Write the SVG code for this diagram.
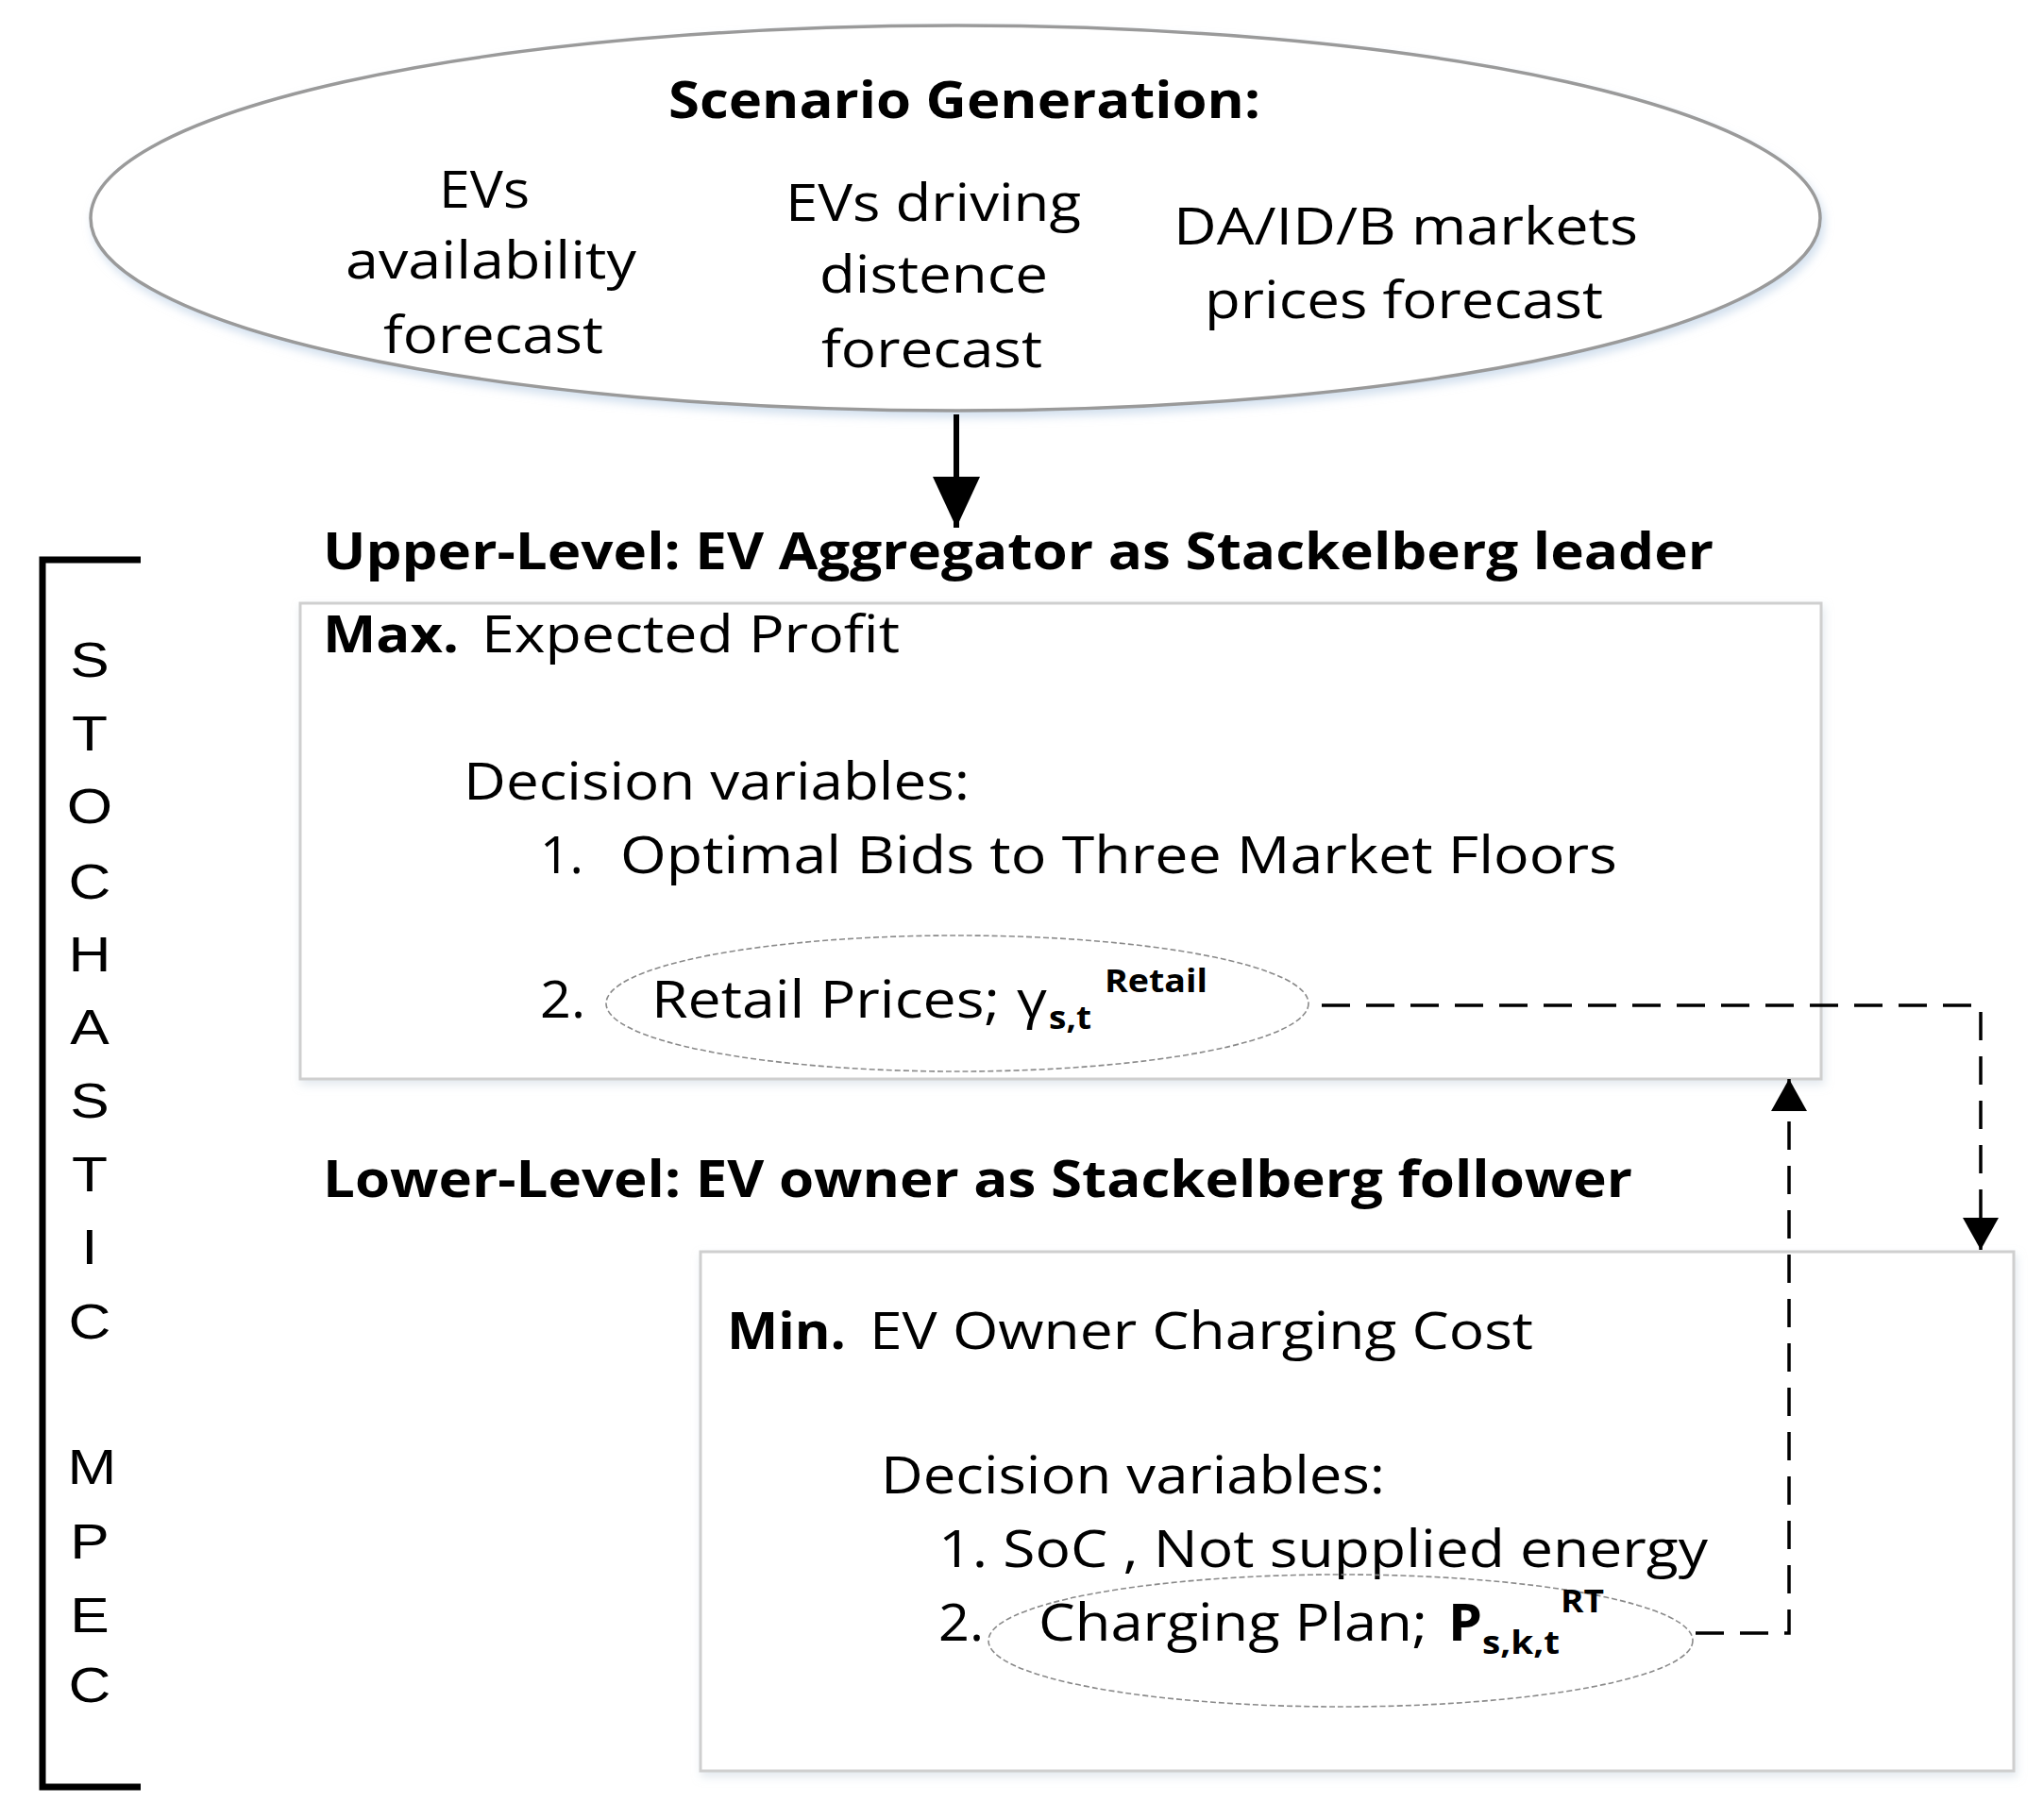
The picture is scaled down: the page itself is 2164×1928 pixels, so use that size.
<svg xmlns="http://www.w3.org/2000/svg" width="2164" height="1928" viewBox="0 0 2164 1928">
<style>
.t{font-family:"Open Sans","Liberation Sans",sans-serif;font-size:54px;fill:#000}
.b{font-weight:bold}
.sub{font-family:"Open Sans","Liberation Sans",sans-serif;font-size:34px;font-weight:bold;fill:#000}
.v{font-family:"Liberation Sans",Arial,sans-serif;font-size:51px;fill:#000;text-anchor:middle}
.box{fill:#fff;stroke:#cfcfcf;stroke-width:3}
.dell{fill:none;stroke:#8a8a8a;stroke-width:1.6;stroke-dasharray:6 3}
.dash{fill:none;stroke:#000;stroke-width:3.5;stroke-dasharray:30 17}
</style>
<defs>
<filter id="sh" x="-5%" y="-5%" width="110%" height="115%">
<feDropShadow dx="3" dy="6" stdDeviation="5" flood-color="#b8cde4" flood-opacity="0.6"/>
</filter>
<filter id="shb" x="-5%" y="-5%" width="110%" height="115%">
<feDropShadow dx="2" dy="5" stdDeviation="5" flood-color="#c8d4e0" flood-opacity="0.5"/>
</filter>
<marker id="ahBig" markerUnits="userSpaceOnUse" markerWidth="54" markerHeight="50" refX="54" refY="25" orient="auto">
<path d="M0,0 L54,25 L0,50 Z" fill="#000"/>
</marker>
<marker id="ahSm" markerUnits="userSpaceOnUse" markerWidth="34" markerHeight="38" refX="34" refY="19" orient="auto">
<path d="M0,0 L34,19 L0,38 Z" fill="#000"/>
</marker>
</defs>
<rect width="2164" height="1928" fill="#fff"/>

<g id="scenario">
<ellipse cx="1012" cy="231" rx="916" ry="204" fill="#fff" stroke="#9a9a9a" stroke-width="3.5" filter="url(#sh)"/>
<text class="t b" x="708" y="125" textLength="627" lengthAdjust="spacingAndGlyphs">Scenario Generation:</text>
<text class="t" x="465" y="220" textLength="96" lengthAdjust="spacingAndGlyphs">EVs</text>
<text class="t" x="366" y="295" textLength="308" lengthAdjust="spacingAndGlyphs">availability</text>
<text class="t" x="406" y="374" textLength="233" lengthAdjust="spacingAndGlyphs">forecast</text>
<text class="t" x="832" y="234" textLength="313" lengthAdjust="spacingAndGlyphs">EVs driving</text>
<text class="t" x="868" y="310" textLength="242" lengthAdjust="spacingAndGlyphs">distence</text>
<text class="t" x="870" y="389" textLength="234" lengthAdjust="spacingAndGlyphs">forecast</text>
<text class="t" x="1243" y="259" textLength="492" lengthAdjust="spacingAndGlyphs">DA/ID/B markets</text>
<text class="t" x="1276" y="337" textLength="422" lengthAdjust="spacingAndGlyphs">prices forecast</text>
</g>

<g id="upper-label">
<text class="t b" x="342" y="603" textLength="1473" lengthAdjust="spacingAndGlyphs">Upper-Level: EV Aggregator as Stackelberg leader</text>
</g>

<g id="upper-box">
<rect class="box" x="318" y="639" width="1611" height="504" filter="url(#shb)"/>
<text class="t b" x="342" y="691" textLength="144" lengthAdjust="spacingAndGlyphs">Max.</text>
<text class="t" x="510" y="691" textLength="443" lengthAdjust="spacingAndGlyphs">Expected Profit</text>
<text class="t" x="491" y="847" textLength="536" lengthAdjust="spacingAndGlyphs">Decision variables:</text>
<text class="t" x="572" y="925" textLength="46" lengthAdjust="spacingAndGlyphs">1.</text>
<text class="t" x="657" y="925" textLength="1056" lengthAdjust="spacingAndGlyphs">Optimal Bids to Three Market Floors</text>
<g id="retail">
<ellipse class="dell" cx="1014" cy="1063" rx="372" ry="72"/>
<text class="t" x="572" y="1078" textLength="48" lengthAdjust="spacingAndGlyphs">2.</text>
<text class="t" x="690" y="1078" textLength="369" lengthAdjust="spacingAndGlyphs">Retail Prices;</text>
<text class="t" x="1077" y="1078" textLength="32" lengthAdjust="spacingAndGlyphs">γ</text>
<text class="sub" x="1111" y="1090" textLength="45" lengthAdjust="spacingAndGlyphs">s,t</text>
<text class="sub" x="1170" y="1051" textLength="109" lengthAdjust="spacingAndGlyphs">Retail</text>
</g>
</g>

<g id="lower-label">
<text class="t b" x="342" y="1268" textLength="1387" lengthAdjust="spacingAndGlyphs">Lower-Level: EV owner as Stackelberg follower</text>
</g>

<g id="lower-box">
<rect class="box" x="742" y="1326" width="1391" height="550" filter="url(#shb)"/>
<text class="t b" x="770" y="1429" textLength="126" lengthAdjust="spacingAndGlyphs">Min.</text>
<text class="t" x="921" y="1429" textLength="703" lengthAdjust="spacingAndGlyphs">EV Owner Charging Cost</text>
<text class="t" x="933" y="1582" textLength="534" lengthAdjust="spacingAndGlyphs">Decision variables:</text>
<text class="t" x="994" y="1660" textLength="815" lengthAdjust="spacingAndGlyphs">1. SoC , Not supplied energy</text>
<g id="charging">
<ellipse class="dell" cx="1420" cy="1738" rx="373" ry="70"/>
<text class="t" x="994" y="1738" textLength="48" lengthAdjust="spacingAndGlyphs">2.</text>
<text class="t" x="1100" y="1738" textLength="412" lengthAdjust="spacingAndGlyphs">Charging Plan;</text>
<text class="t b" x="1534" y="1738" textLength="36" lengthAdjust="spacingAndGlyphs">P</text>
<text class="sub" x="1570" y="1752" textLength="82" lengthAdjust="spacingAndGlyphs">s,k,t</text>
<text class="sub" x="1653" y="1708" textLength="46" lengthAdjust="spacingAndGlyphs">RT</text>
</g>
</g>

<g id="stochastic-mpec">
<path d="M149,593 H45 V1893 H149" fill="none" stroke="#000" stroke-width="7"/>
<g transform="translate(95,0) scale(1.22,1)">
<text class="v" x="0" y="717">S</text>
<text class="v" x="0" y="795">T</text>
<text class="v" x="0" y="872">O</text>
<text class="v" x="0" y="952">C</text>
<text class="v" x="0" y="1029">H</text>
<text class="v" x="0" y="1106">A</text>
<text class="v" x="0" y="1184">S</text>
<text class="v" x="0" y="1262">T</text>
<text class="v" x="0" y="1339">I</text>
<text class="v" x="0" y="1418">C</text>
<text class="v" x="2" y="1572">M</text>
<text class="v" x="0" y="1651">P</text>
<text class="v" x="0" y="1729">E</text>
<text class="v" x="0" y="1803">C</text>
</g>
</g>

<g id="connectors">
<line x1="1013" y1="439" x2="1013" y2="559" stroke="#000" stroke-width="6" marker-end="url(#ahBig)"/>
<polyline class="dash" points="1400,1065 2098,1065 2098,1324" marker-end="url(#ahSm)"/>
<polyline class="dash" points="1796,1730 1895,1730 1895,1143" marker-end="url(#ahSm)"/>
</g>
</svg>
